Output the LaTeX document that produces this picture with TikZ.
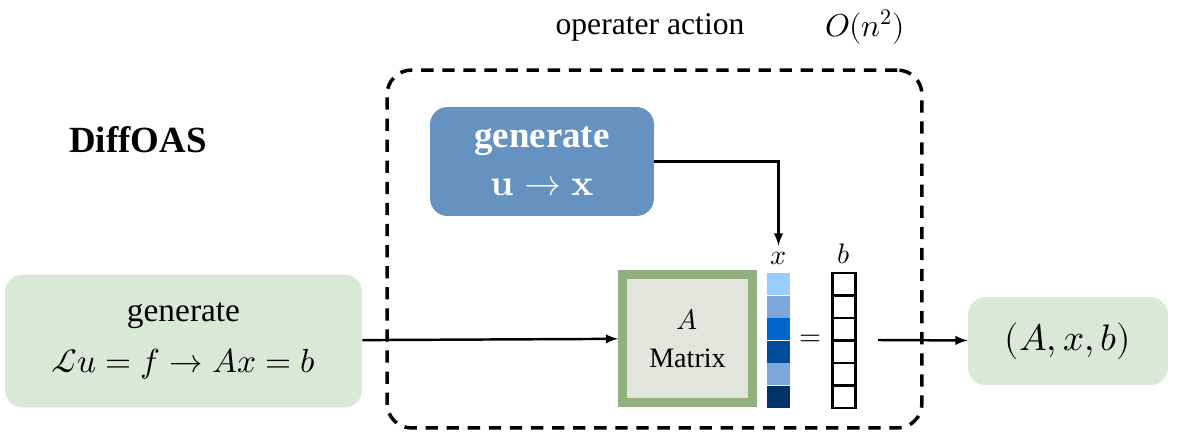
\documentclass[tikz,border=0pt]{standalone}
\usepackage{fontspec}
\setmainfont{Liberation Serif}
\usepackage{amsmath}
\usepackage{unicode-math}
\setmathfont{Latin Modern Math}
\usetikzlibrary{positioning}

\definecolor{boxgreen}{HTML}{D8E9D6}
\definecolor{boxblue}{HTML}{6692C1}
\definecolor{matgreen}{HTML}{93AE7F}
\definecolor{matfill}{HTML}{E1E5DC}
\definecolor{xa}{HTML}{99CCFF}
\definecolor{xb}{HTML}{7DA7D9}
\definecolor{xc}{HTML}{0066CC}
\definecolor{xd}{HTML}{004C99}
\definecolor{xe}{HTML}{003366}

\tikzset{
  softbox/.style={draw=none,fill=boxgreen,rounded corners=10pt,align=center,inner sep=0pt},
  cell/.style={draw=black,line width=1.3pt,minimum width=0.46cm,minimum height=0.45cm,inner sep=0pt},
  xcell/.style={minimum width=0.46cm,minimum height=0.45cm,inner sep=0pt},
  flow/.style={-latex,line width=1.4pt}
}

\begin{document}
\begin{tikzpicture}[x=0.02cm,y=-0.02cm]
    \useasboundingbox (0,0) rectangle (1177,439);
    % frame
    \node[draw,dash pattern=on 7pt off 5pt,line width=2pt,rounded corners=14pt,minimum width=10.7cm,minimum height=7.16cm] (frame) at (654.5,249) {};
    \node[font=\fontsize{18}{22}\selectfont] (title) at (650,27) {operater action};
    \node[font=\fontsize{18}{22}\selectfont] (order) at (865,27) {$O(n^2)$};
    \node[font=\fontsize{21}{25}\selectfont\bfseries] (name) at (138,140) {DiffOAS};

    \node[softbox,minimum width=7.14cm,minimum height=2.66cm,font=\fontsize{19}{29}\selectfont] (pde) at (183.5,341)
      {generate\\ $\mathcal{L}u=f\rightarrow Ax=b$};
    \node[softbox,fill=boxblue,text=white,minimum width=4.48cm,minimum height=2.18cm,font=\fontsize{21}{27}\selectfont\bfseries] (gen) at (542,161.5)
      {generate\\ $\symbf{u\rightarrow x}$};
    \node[draw=matgreen,line width=5pt,fill=matfill,minimum width=2.6cm,minimum height=2.56cm,align=center,font=\fontsize{16}{22}\selectfont] (mat) at (687.5,338.5)
      {$A$\\ Matrix};
    \node[softbox,minimum width=4cm,minimum height=1.76cm,font=\fontsize{21}{25}\selectfont] (out) at (1068,341)
      {$(A,x,b)$};

    % vectors
    \foreach \c [count=\i] in {xa,xb,xc,xd,xb,xe}
      \node[xcell,fill=\c] (x\i) at (778.5,{273+22.5*(\i-0.5)}) {};
    \foreach \i in {1,...,6}
      \node[cell] (b\i) at (844,{273+22.5*(\i-0.5)}) {};
    \node[above=1pt of x1,font=\fontsize{16}{18}\selectfont] (xlab) {$x$};
    \node[above=1pt of b1,font=\fontsize{16}{18}\selectfont] (blab) {$b$};
    \node[font=\fontsize{16}{18}\selectfont] (eq) at (810,340) {$=$};
    \coordinate (tail) at (878,340);

    \draw[flow] (pde) -- (mat);
    \draw[flow] (tail) -- (out);
    \draw[flow] (gen.east) -| (xlab.north);
\end{tikzpicture}
\end{document}
